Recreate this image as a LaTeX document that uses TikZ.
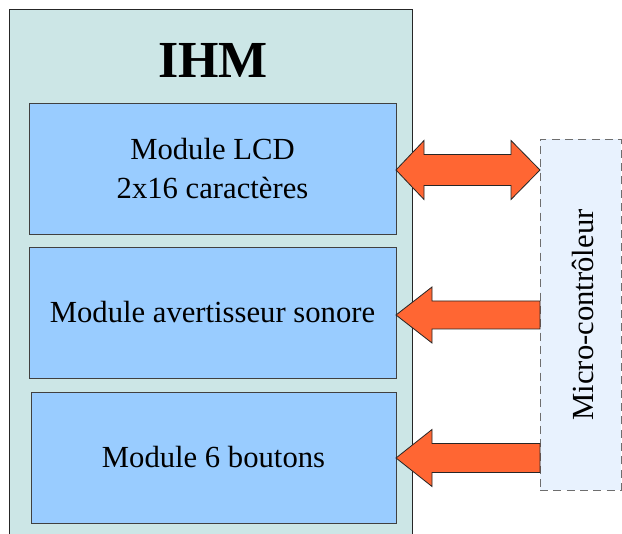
\documentclass[tikz,border=0pt]{standalone}
\usepackage{fontspec}
\setmainfont{Liberation Serif}
\usetikzlibrary{calc}
\definecolor{outerfill}{RGB}{204,230,230}
\definecolor{modfill}{RGB}{153,204,255}
\definecolor{mcufill}{RGB}{232,242,254}
\definecolor{arrowfill}{RGB}{255,102,51}
\definecolor{dashgray}{RGB}{110,110,110}
\begin{document}
\begin{tikzpicture}[x=0.75pt,y=-0.75pt,
  modbox/.style={draw=black!75,line width=0.6pt,fill=modfill,inner sep=0pt,outer sep=0pt,
    minimum height=98.25pt,align=center,font=\fontsize{23pt}{29pt}\selectfont},
  blockarrow/.style={draw=black!85,line width=0.6pt,fill=arrowfill,line join=miter}]
\useasboundingbox (0,0) rectangle (622,534);
\clip (0,0) rectangle (622,534);
% outer IHM box
\node[draw=black!85,line width=0.6pt,fill=outerfill,inner sep=0pt,outer sep=0pt,
  minimum width=302.25pt,minimum height=402pt] (ihm) at (210.5,277) {};
\node[font=\fontsize{39pt}{44pt}\selectfont\bfseries] (title) at (213,60) {IHM};
% modules
\node[modbox,minimum width=275.25pt] (lcd) at (212.5,168.5) {Module LCD\\2x16 caractères};
\node[modbox,minimum width=275.25pt] (buzz) at (212.5,312.5) {Module avertisseur sonore};
\node[modbox,minimum width=273.75pt] (btn) at (213.5,457.5) {Module 6 boutons};
% micro-controleur
\node[draw=dashgray,dashed,dash pattern=on 6pt off 4pt,line width=0.6pt,fill=mcufill,
  inner sep=0pt,outer sep=0pt,minimum width=60.75pt,minimum height=263.25pt] (mcu) at (580.5,314.5) {};
\node[rotate=90,font=\fontsize{23pt}{28pt}\selectfont] (mcutext) at (583,315) {Micro-contrôleur};
% double arrow LCD <-> MCU
\path let \p1=($(lcd.east)+(0,1.5)$), \p2=(mcu.west |- \p1) in
  [blockarrow] (\x1,\y1) -- ($(\x1,\y1)+(28,-29.5)$) -- ($(\x1,\y1)+(28,-15.5)$)
  -- ($(\x2,\y2)+(-29,-15.5)$) -- ($(\x2,\y2)+(-29,-29.5)$) -- (\x2,\y2)
  -- ($(\x2,\y2)+(-29,29.5)$) -- ($(\x2,\y2)+(-29,15.5)$)
  -- ($(\x1,\y1)+(28,15.5)$) -- ($(\x1,\y1)+(28,29.5)$) -- cycle;
% arrow MCU -> buzzer
\path let \p1=($(buzz.east)+(0,2.5)$), \p2=(mcu.west |- \p1) in
  [blockarrow] (\x1,\y1) -- ($(\x1,\y1)+(36,-28)$) -- ($(\x1,\y1)+(36,-14)$)
  -- ($(\x2,\y2)+(0,-14)$) -- ($(\x2,\y2)+(0,14)$)
  -- ($(\x1,\y1)+(36,14)$) -- ($(\x1,\y1)+(36,28)$) -- cycle;
% arrow MCU -> buttons
\path let \p1=($(btn.east)+(0,0.5)$), \p2=(mcu.west |- \p1) in
  [blockarrow] (\x1,\y1) -- ($(\x1,\y1)+(36,-28.5)$) -- ($(\x1,\y1)+(36,-14.5)$)
  -- ($(\x2,\y2)+(0,-14.5)$) -- ($(\x2,\y2)+(0,14.5)$)
  -- ($(\x1,\y1)+(36,14.5)$) -- ($(\x1,\y1)+(36,28.5)$) -- cycle;
\end{tikzpicture}
\end{document}
